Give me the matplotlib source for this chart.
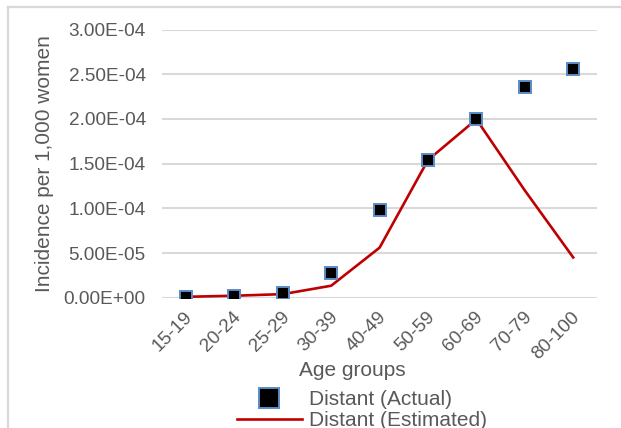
import matplotlib
matplotlib.use("Agg")
import matplotlib.pyplot as plt
import matplotlib.transforms as mtransforms
from matplotlib.ticker import FuncFormatter

plt.rcParams['font.family'] = ['Liberation Sans', 'DejaVu Sans']

age_groups = ["15-19", "20-24", "25-29", "30-39", "40-49",
              "50-59", "60-69", "70-79", "80-100"]
actual = [1.0e-6, 2.0e-6, 5.5e-6, 2.75e-5, 9.8e-5,
          1.54e-4, 1.995e-4, 2.353e-4, 2.558e-4]
estimated = [1.0e-6, 2.2e-6, 4.0e-6, 1.34e-5, 5.6e-5,
             1.54e-4, 1.995e-4, 1.2e-4, 4.5e-5]
y_ticks = [0, 5e-5, 1e-4, 1.5e-4, 2e-4, 2.5e-4, 3e-4]

text_color = "#595959"
grid_color = "#d9d9d9"

W, H = 621, 428
fig = plt.figure(figsize=(W / 100, H / 100), dpi=100)

# outer chart border (only top and left edges fall inside the image)
fig.add_artist(plt.Line2D([8 / W, 8 / W], [0, 1 - 7 / H], color="#d9d9d9",
                          lw=1.6, transform=fig.transFigure))
fig.add_artist(plt.Line2D([8 / W, 1], [1 - 7 / H, 1 - 7 / H], color="#d9d9d9",
                          lw=1.6, transform=fig.transFigure))

left, right = 161.8, 597.4
top, bottom = 29.5, 297.7
ax = fig.add_axes([left / W, 1 - bottom / H, (right - left) / W, (bottom - top) / H])

x = list(range(len(age_groups)))
ax.plot(x, estimated, color="#c00000", lw=1.9, zorder=3,
        label="Distant (Estimated)")
ax.plot(x, actual, linestyle="none", marker="s", markersize=9.2,
        markerfacecolor="black", markeredgecolor="#5b8cc8",
        markeredgewidth=1.4, zorder=4, label="Distant (Actual)")

ax.set_xlim(-0.5, len(age_groups) - 0.5)
ax.set_ylim(0, 3e-4)
ax.set_yticks(y_ticks)
ax.yaxis.set_major_formatter(FuncFormatter(lambda v, p: f"{v:.2E}"))
ax.set_xticks(x)
ax.set_xticklabels(age_groups, rotation=45, ha="right", va="center",
                   rotation_mode="anchor")
ax.tick_params(axis="both", length=0, labelsize=13.7, colors=text_color)
ax.tick_params(axis="y", pad=11.5)
ax.tick_params(axis="x", pad=12)
shift = mtransforms.ScaledTranslation(4 / 100, 0, fig.dpi_scale_trans)
for lbl in ax.get_xticklabels():
    lbl.set_transform(lbl.get_transform() + shift)
ax.grid(axis="y", color=grid_color, lw=1.5)
ax.set_axisbelow(True)
for s in ax.spines.values():
    s.set_visible(False)

fig.text(352 / W, 1 - 371 / H, "Age groups", fontsize=15, color=text_color,
         ha="center", va="center")
fig.text(45 / W, 1 - 164 / H, "Incidence per 1,000 women", fontsize=15,
         color=text_color, ha="center", va="center", rotation=90)

handles, labels = ax.get_legend_handles_labels()
leg = fig.legend([handles[1], handles[0]], [labels[1], labels[0]],
                 loc="upper left", bbox_to_anchor=(237 / W, 1 - 390 / H),
                 frameon=False, fontsize=15, labelcolor=text_color,
                 handlelength=3.1, handletextpad=0.34, borderpad=0,
                 borderaxespad=0, labelspacing=0.1, markerscale=1.55)

fig.savefig("out.png", dpi=100)
